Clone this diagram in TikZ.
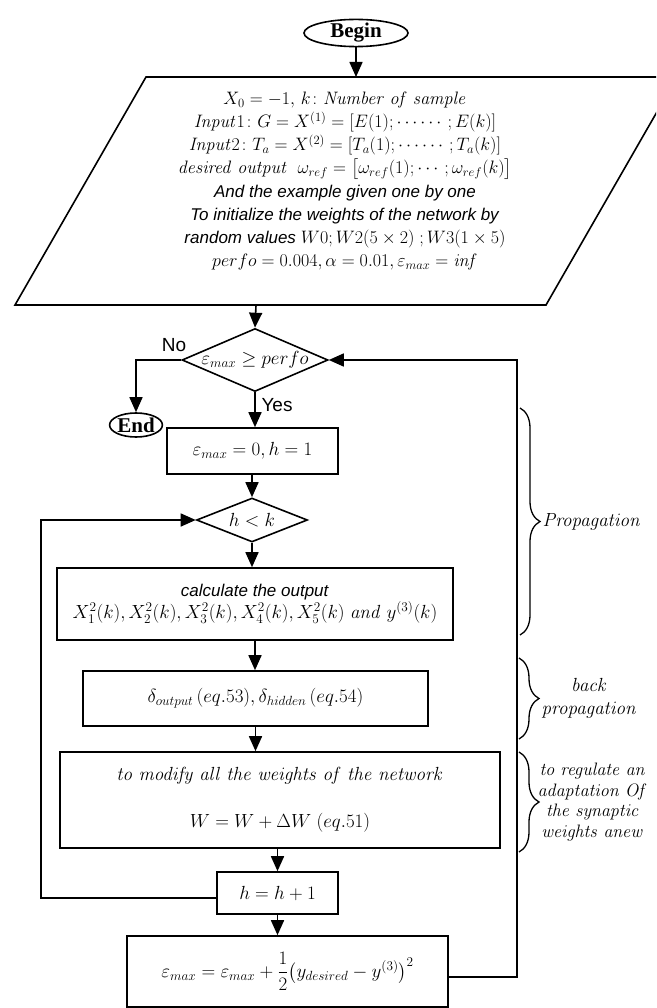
\RequirePackage{fix-cm}
\documentclass[tikz,border=0pt]{standalone}
\usepackage{amsmath}
\usepackage[no-math]{fontspec}
\setmainfont{Liberation Sans}
\newfontfamily\timesfont{Liberation Serif}
\usetikzlibrary{arrows.meta,shapes.geometric,calc,decorations.pathreplacing}
\newcommand{\arialit}[1]{{\fontsize{17}{23}\selectfont\textit{#1}}}
\tikzset{
  ln/.style={line width=1.6pt},
  arr/.style={line width=1.6pt,-{Triangle[length=15pt,width=13pt]}},
  box/.style={draw,line width=1.6pt,inner sep=0pt,align=center,font=\fontsize{19}{23}\selectfont},
  dia/.style={draw,shape=diamond,line width=1.6pt,inner sep=0pt},
  term/.style={draw,ellipse,line width=1.6pt,inner sep=0pt,font=\timesfont\bfseries\fontsize{21}{22}\selectfont},
  lbl/.style={inner sep=0pt,font=\fontsize{19}{22}\selectfont},
  txt/.style={inner sep=0pt,align=center,font=\fontsize{19}{23}\selectfont},
  ptxt/.style={inner sep=0pt,align=center,font=\fontsize{18}{23.1}\selectfont},
  brc/.style={line width=1.3pt,decorate,decoration={brace,amplitude=20pt}}
}
\begin{document}
\begin{tikzpicture}[x=1pt,y=-1pt]
\useasboundingbox (0,0) rectangle (656,1008);
\clip (0,0) rectangle (656,1008);
% Begin
\node[term,minimum width=104pt,minimum height=25pt] (begin) at (356,33) {Begin};
% input parallelogram
\coordinate (ptop) at (356,77);
\coordinate (pbot) at (256,305);
\draw[ln] (146,77) -- (677,77) -- (546,305) -- (15,305) -- cycle;
\node[ptxt] (inp) at (345,181) {%
$X_0=-1,\,k\colon \mathit{Number\ of\ sample}$\\
$\mathit{Input}1\colon G=X^{(1)}=[E(1);\cdots\cdots;E(k)]$\\
$\mathit{Input}2\colon T_a=X^{(2)}=[T_a(1);\cdots\cdots;T_a(k)]$\\
$\mathit{desired\ output}\ \ \omega_{ref}=\bigl[\omega_{ref}(1);\cdots;\omega_{ref}(k)\bigr]$\\
\arialit{And the example given one by one}\\
\arialit{To initialize the weights of the network by}\\
\arialit{random values} $W0;W2(5\times 2)\ ;W3(1\times 5)$\\
$perfo=0.004,\alpha=0.01,\varepsilon_{max}=\mathit{inf}$};
\draw[arr] (begin) -- (ptop);
% decision 1
\node[dia,minimum width=146pt,minimum height=63pt,
  label={[txt]center:$\varepsilon_{max}\ge perfo$}] (d1) at (255,360) {};
\draw[arr] (pbot) -- (d1.north);
\node[lbl] (no) at (174,345) {No};
\node[term,minimum width=52pt,minimum height=24pt] (end) at (136,425) {End};
\draw[arr] (d1.west) -| (end.north);
% box 1
\node[box,minimum width=171pt,minimum height=46pt] (b1) at (252.5,451) {$\varepsilon_{max}=0,h=1$};
\draw[arr] (d1.south) -- (d1.south |- b1.north);
\node[lbl] (yes) at (277,405) {Yes};
% decision 2
\node[dia,minimum width=111pt,minimum height=44pt,
  label={[txt]center:$h<k$}] (d2) at (252,520) {};
\draw[arr] (b1.south -| d2.north) -- (d2.north);
% box 2
\node[box,minimum width=396pt,minimum height=72pt] (b2) at (255,604)
 {\arialit{calculate the output}\\[-1pt]
  $X_1^2(k),X_2^2(k),X_3^2(k),X_4^2(k),X_5^2(k)\ \mathit{and}\ y^{(3)}(k)$};
\draw[arr] (d2.south) -- (d2.south |- b2.north);
% box 3
\node[box,minimum width=345pt,minimum height=55pt] (b3) at (255.5,698.5)
 {$\delta_{output}\,(eq.53),\delta_{hidden}\,(eq.54)$};
\draw[arr] (b2.south) -- (b2.south |- b3.north);
% box 4
\node[box,minimum width=440pt,minimum height=96pt] (b4) at (280,800)
 {$\mathit{to\ modify\ all\ the\ weights\ of\ the\ network}$\\[24pt]
  $W=W+\Delta W\ (eq.51)$};
\draw[arr] (b3.south) -- (b3.south |- b4.north);
% box 5
\node[box,minimum width=121pt,minimum height=42pt] (b5) at (277.5,893) {$h=h+1$};
\draw[arr] (b4.south -| b5.north) -- (b5.north);
% box 6
\node[box,minimum width=321pt,minimum height=71pt] (b6) at (287.5,971.5)
 {$\varepsilon_{max}=\varepsilon_{max}+\dfrac{1}{2}\bigl(y_{desired}-y^{(3)}\bigr)^2$};
\draw[arr] (b5.south) -- (b5.south |- b6.north);
% loops
\draw[arr] ($(b5.west)+(0,5)$) -- ++(-175,0) |- (d2.west);
\draw[arr] ($(b6.east)+(0,5.5)$) -- ++(68,0) |- (d1.east);
% braces
\draw[brc] (520,408) -- (520,635) node[midway,right=22pt,txt] (lp) {$\mathit{Propagation}$};
\draw[brc] (519,658) -- (519,739) node[midway,right=22pt,txt] (lb) {$\mathit{back}$\\$\mathit{propagation}$};
\draw[brc] (519,752) -- (519,852) node[midway,right=18pt,txt,font=\fontsize{18}{20.5}\selectfont] (lr)
 {$\mathit{to\ regulate\ an}$\\$\mathit{adaptation\ Of}$\\$\mathit{the\ synaptic}$\\$\mathit{weights\ anew}$};
\end{tikzpicture}
\end{document}
